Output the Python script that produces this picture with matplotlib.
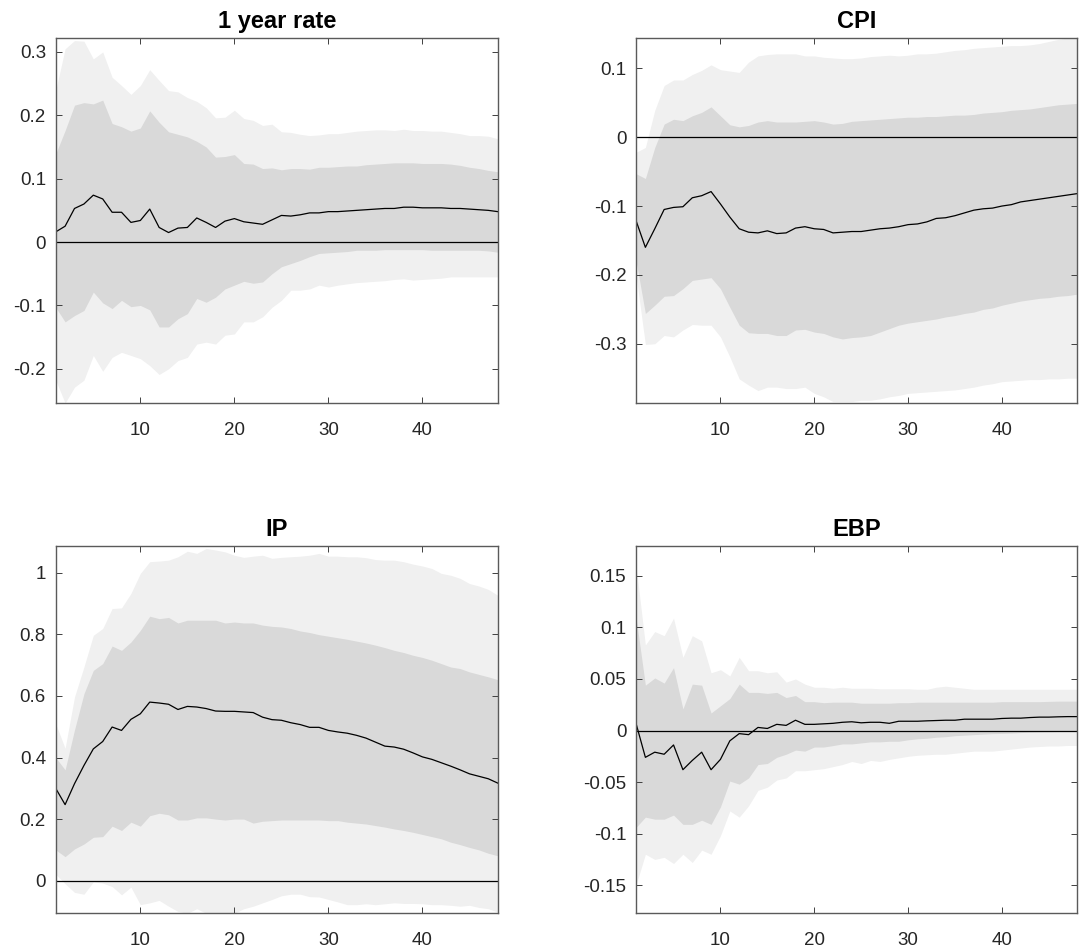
import numpy as np
import matplotlib
matplotlib.use("Agg")
import matplotlib.pyplot as plt
from matplotlib.ticker import FuncFormatter

plt.rcParams['font.family'] = ['Liberation Sans', 'DejaVu Sans']

# horizons
h = np.arange(1, 49)

# 1 year rate
rate_med = [0.016, 0.025, 0.053, 0.060, 0.074, 0.068, 0.047, 0.047, 0.031, 0.034,
            0.052, 0.023, 0.015, 0.022, 0.023, 0.038, 0.031, 0.023, 0.033, 0.037,
            0.032, 0.030, 0.028, 0.035, 0.042, 0.041, 0.043, 0.046, 0.046, 0.048,
            0.048, 0.049, 0.050, 0.051, 0.052, 0.053, 0.053, 0.055, 0.055, 0.054,
            0.054, 0.054, 0.053, 0.053, 0.052, 0.051, 0.050, 0.048]
rate_hi68 = [0.139, 0.176, 0.216, 0.220, 0.218, 0.224, 0.187, 0.182, 0.175, 0.180,
             0.207, 0.189, 0.174, 0.170, 0.166, 0.159, 0.150, 0.134, 0.135, 0.138,
             0.124, 0.123, 0.116, 0.117, 0.114, 0.116, 0.116, 0.115, 0.118, 0.118,
             0.119, 0.120, 0.120, 0.122, 0.123, 0.124, 0.125, 0.125, 0.125, 0.124,
             0.124, 0.124, 0.123, 0.121, 0.118, 0.116, 0.113, 0.111]
rate_hi90 = [0.239, 0.305, 0.318, 0.317, 0.289, 0.300, 0.260, 0.247, 0.233, 0.247,
             0.272, 0.255, 0.239, 0.237, 0.228, 0.222, 0.212, 0.196, 0.197, 0.208,
             0.195, 0.192, 0.184, 0.186, 0.174, 0.173, 0.170, 0.168, 0.169, 0.171,
             0.171, 0.173, 0.175, 0.176, 0.177, 0.177, 0.176, 0.178, 0.176, 0.176,
             0.175, 0.175, 0.173, 0.171, 0.168, 0.168, 0.167, 0.163]
rate_lo68 = [-0.103, -0.126, -0.116, -0.108, -0.079, -0.096, -0.105, -0.092, -0.102, -0.100,
             -0.107, -0.134, -0.134, -0.121, -0.113, -0.089, -0.095, -0.087, -0.074, -0.068,
             -0.062, -0.065, -0.063, -0.050, -0.039, -0.034, -0.029, -0.023, -0.018, -0.017,
             -0.016, -0.015, -0.013, -0.013, -0.013, -0.012, -0.012, -0.012, -0.012, -0.012,
             -0.013, -0.013, -0.013, -0.013, -0.013, -0.013, -0.014, -0.016]
rate_lo90 = [-0.218, -0.254, -0.229, -0.218, -0.179, -0.204, -0.182, -0.174, -0.179, -0.184,
             -0.195, -0.209, -0.200, -0.187, -0.182, -0.161, -0.158, -0.161, -0.147, -0.145,
             -0.126, -0.126, -0.118, -0.103, -0.092, -0.076, -0.076, -0.074, -0.068, -0.071,
             -0.068, -0.066, -0.064, -0.063, -0.062, -0.061, -0.059, -0.058, -0.060, -0.059,
             -0.058, -0.057, -0.055, -0.055, -0.055, -0.055, -0.055, -0.055]

# CPI
cpi_med = [-0.121, -0.160, -0.133, -0.105, -0.102, -0.101, -0.088, -0.085, -0.079, -0.097,
           -0.116, -0.133, -0.138, -0.139, -0.136, -0.140, -0.139, -0.132, -0.130, -0.133,
           -0.134, -0.139, -0.138, -0.137, -0.137, -0.135, -0.133, -0.132, -0.130, -0.127,
           -0.126, -0.123, -0.118, -0.117, -0.114, -0.110, -0.106, -0.104, -0.103, -0.100,
           -0.098, -0.094, -0.092, -0.090, -0.088, -0.086, -0.084, -0.082]
cpi_hi68 = [-0.053, -0.060, -0.015, 0.019, 0.026, 0.024, 0.031, 0.036, 0.044, 0.031,
            0.018, 0.015, 0.017, 0.022, 0.024, 0.022, 0.022, 0.022, 0.023, 0.024,
            0.022, 0.019, 0.020, 0.023, 0.024, 0.025, 0.026, 0.027, 0.028, 0.029,
            0.029, 0.030, 0.030, 0.031, 0.032, 0.032, 0.033, 0.035, 0.036, 0.037,
            0.039, 0.040, 0.041, 0.043, 0.045, 0.047, 0.048, 0.049]
cpi_hi90 = [-0.022, -0.015, 0.039, 0.075, 0.083, 0.083, 0.091, 0.097, 0.105, 0.098,
            0.096, 0.094, 0.109, 0.118, 0.120, 0.121, 0.121, 0.121, 0.118, 0.118,
            0.116, 0.115, 0.114, 0.114, 0.115, 0.117, 0.118, 0.119, 0.118, 0.119,
            0.121, 0.121, 0.122, 0.124, 0.126, 0.127, 0.129, 0.130, 0.131, 0.132,
            0.133, 0.133, 0.134, 0.136, 0.139, 0.142, 0.144, 0.144]
cpi_lo68 = [-0.179, -0.256, -0.244, -0.231, -0.230, -0.220, -0.208, -0.206, -0.204, -0.220,
            -0.247, -0.273, -0.284, -0.285, -0.285, -0.288, -0.288, -0.280, -0.279, -0.283,
            -0.285, -0.290, -0.293, -0.291, -0.290, -0.288, -0.283, -0.278, -0.273, -0.270,
            -0.268, -0.266, -0.264, -0.261, -0.259, -0.256, -0.254, -0.250, -0.248, -0.244,
            -0.241, -0.238, -0.236, -0.234, -0.233, -0.231, -0.230, -0.228]
cpi_lo90 = [-0.200, -0.301, -0.300, -0.288, -0.290, -0.280, -0.272, -0.273, -0.273, -0.290,
            -0.319, -0.351, -0.360, -0.368, -0.363, -0.363, -0.365, -0.365, -0.363, -0.372,
            -0.377, -0.384, -0.384, -0.384, -0.382, -0.382, -0.380, -0.377, -0.375, -0.372,
            -0.371, -0.370, -0.369, -0.368, -0.367, -0.365, -0.363, -0.360, -0.358, -0.355,
            -0.354, -0.353, -0.352, -0.352, -0.351, -0.351, -0.350, -0.350]

# IP
ip_med = [0.300, 0.247, 0.315, 0.374, 0.428, 0.452, 0.499, 0.488, 0.524, 0.542,
          0.580, 0.577, 0.573, 0.556, 0.566, 0.564, 0.559, 0.551, 0.550, 0.550,
          0.548, 0.546, 0.531, 0.523, 0.521, 0.513, 0.507, 0.498, 0.498, 0.488,
          0.483, 0.479, 0.472, 0.463, 0.450, 0.437, 0.434, 0.427, 0.415, 0.402,
          0.394, 0.383, 0.372, 0.360, 0.347, 0.339, 0.331, 0.317]
ip_hi68 = [0.400, 0.360, 0.490, 0.607, 0.683, 0.705, 0.762, 0.748, 0.775, 0.813,
           0.859, 0.851, 0.855, 0.837, 0.846, 0.846, 0.846, 0.846, 0.837, 0.840,
           0.837, 0.837, 0.830, 0.826, 0.824, 0.819, 0.811, 0.806, 0.799, 0.794,
           0.789, 0.784, 0.778, 0.772, 0.765, 0.757, 0.748, 0.741, 0.732, 0.725,
           0.716, 0.705, 0.694, 0.689, 0.678, 0.670, 0.662, 0.653]
ip_hi90 = [0.510, 0.430, 0.597, 0.694, 0.797, 0.819, 0.884, 0.886, 0.933, 0.998,
           1.036, 1.038, 1.041, 1.052, 1.070, 1.063, 1.079, 1.074, 1.068, 1.057,
           1.050, 1.054, 1.057, 1.047, 1.050, 1.052, 1.054, 1.057, 1.063, 1.054,
           1.054, 1.052, 1.052, 1.049, 1.043, 1.041, 1.041, 1.036, 1.028, 1.022,
           1.014, 0.998, 0.992, 0.982, 0.965, 0.957, 0.946, 0.927]
ip_lo68 = [0.100, 0.078, 0.103, 0.119, 0.141, 0.143, 0.177, 0.163, 0.190, 0.177,
           0.211, 0.219, 0.214, 0.197, 0.197, 0.204, 0.204, 0.200, 0.197, 0.200,
           0.200, 0.187, 0.193, 0.195, 0.197, 0.197, 0.197, 0.197, 0.197, 0.195,
           0.195, 0.190, 0.187, 0.184, 0.179, 0.174, 0.168, 0.163, 0.157, 0.150,
           0.143, 0.136, 0.125, 0.117, 0.108, 0.100, 0.089, 0.081]
ip_lo90 = [0.021, -0.010, -0.038, -0.044, -0.004, -0.008, -0.019, -0.046, -0.021, -0.078,
           -0.072, -0.064, -0.083, -0.100, -0.106, -0.091, -0.106, -0.110, -0.110, -0.106,
           -0.091, -0.083, -0.072, -0.061, -0.049, -0.044, -0.044, -0.052, -0.053, -0.061,
           -0.069, -0.078, -0.078, -0.075, -0.078, -0.075, -0.072, -0.074, -0.074, -0.075,
           -0.078, -0.078, -0.080, -0.083, -0.080, -0.087, -0.091, -0.102]

# EBP
ebp_med = [0.007, -0.026, -0.021, -0.023, -0.014, -0.038, -0.029, -0.021, -0.038, -0.028,
           -0.010, -0.003, -0.004, 0.003, 0.002, 0.006, 0.005, 0.010, 0.006, 0.006,
           0.0065, 0.007, 0.008, 0.0085, 0.0075, 0.008, 0.008, 0.007, 0.009, 0.009,
           0.009, 0.0094, 0.0097, 0.010, 0.010, 0.011, 0.011, 0.011, 0.011, 0.0117,
           0.012, 0.012, 0.0126, 0.013, 0.013, 0.0133, 0.0135, 0.0135]
ebp_hi68 = [0.110, 0.044, 0.051, 0.046, 0.061, 0.021, 0.045, 0.044, 0.017, 0.024,
            0.031, 0.045, 0.037, 0.037, 0.036, 0.037, 0.032, 0.034, 0.028, 0.028,
            0.027, 0.0275, 0.0275, 0.0275, 0.0265, 0.0265, 0.0265, 0.0265, 0.027, 0.027,
            0.0275, 0.0275, 0.0275, 0.0275, 0.0275, 0.0275, 0.0275, 0.0275, 0.0275, 0.028,
            0.028, 0.028, 0.028, 0.028, 0.0283, 0.0285, 0.0285, 0.0285]
ebp_hi90 = [0.160, 0.083, 0.096, 0.092, 0.109, 0.071, 0.092, 0.087, 0.056, 0.059,
            0.053, 0.071, 0.058, 0.058, 0.056, 0.057, 0.047, 0.050, 0.045, 0.042,
            0.042, 0.041, 0.042, 0.041, 0.041, 0.041, 0.0405, 0.0405, 0.0405, 0.0405,
            0.040, 0.040, 0.042, 0.043, 0.042, 0.041, 0.040, 0.040, 0.040, 0.040,
            0.040, 0.040, 0.040, 0.040, 0.040, 0.040, 0.040, 0.040]
ebp_lo68 = [-0.094, -0.084, -0.086, -0.086, -0.082, -0.091, -0.091, -0.087, -0.091, -0.074,
            -0.049, -0.052, -0.046, -0.033, -0.032, -0.026, -0.023, -0.019, -0.020, -0.016,
            -0.016, -0.0146, -0.013, -0.013, -0.012, -0.011, -0.011, -0.0104, -0.0104, -0.009,
            -0.008, -0.0075, -0.0065, -0.006, -0.005, -0.0045, -0.004, -0.0035, -0.003, -0.0028,
            -0.0025, -0.002, -0.0016, -0.0014, -0.0012, -0.001, -0.0008, -0.0006]
ebp_lo90 = [-0.150, -0.120, -0.125, -0.123, -0.129, -0.120, -0.128, -0.116, -0.120, -0.102,
            -0.078, -0.084, -0.073, -0.058, -0.055, -0.048, -0.046, -0.039, -0.039, -0.038,
            -0.037, -0.035, -0.033, -0.030, -0.032, -0.029, -0.030, -0.028, -0.0265, -0.025,
            -0.024, -0.0235, -0.023, -0.023, -0.022, -0.021, -0.020, -0.020, -0.020, -0.019,
            -0.018, -0.017, -0.016, -0.0155, -0.015, -0.015, -0.0145, -0.0145]

titles = ["1 year rate", "CPI", "IP", "EBP"]
medians = [rate_med, cpi_med, ip_med, ebp_med]
hi68 = [rate_hi68, cpi_hi68, ip_hi68, ebp_hi68]
lo68 = [rate_lo68, cpi_lo68, ip_lo68, ebp_lo68]
hi90 = [rate_hi90, cpi_hi90, ip_hi90, ebp_hi90]
lo90 = [rate_lo90, cpi_lo90, ip_lo90, ebp_lo90]
ylims = [(-0.254, 0.322), (-0.386, 0.144), (-0.105, 1.087), (-0.177, 0.179)]
yticks = [[-0.2, -0.1, 0, 0.1, 0.2, 0.3],
          [-0.3, -0.2, -0.1, 0, 0.1],
          [0, 0.2, 0.4, 0.6, 0.8, 1],
          [-0.15, -0.1, -0.05, 0, 0.05, 0.1, 0.15]]

W, H = 1081, 952
fig = plt.figure(figsize=(W / 100, H / 100), dpi=100)

# axes boxes in pixels: left, top, right, bottom
boxes = [(55.7, 38, 497.7, 403),
         (636, 38, 1077, 403),
         (55.7, 546, 497.7, 913),
         (636, 546, 1077, 913)]

fmt = FuncFormatter(lambda v, p: ('%g' % round(v, 4)))

for i in range(4):
    l, t, r, b = boxes[i]
    ax = fig.add_axes([l / W, (H - b) / H, (r - l) / W, (b - t) / H])
    ax.fill_between(h, lo90[i], hi90[i], color='#f0f0f0', linewidth=0)
    ax.fill_between(h, lo68[i], hi68[i], color='#d9d9d9', linewidth=0)
    ax.axhline(0, color='black', linewidth=0.9)
    ax.plot(h, medians[i], color='black', linewidth=0.9)
    ax.set_xlim(1, 48)
    ax.set_ylim(*ylims[i])
    ax.set_xticks([10, 20, 30, 40])
    ax.set_yticks(yticks[i])
    ax.yaxis.set_major_formatter(fmt)
    ax.tick_params(direction='in', length=4, width=0.7, colors='#404040',
                   labelcolor='#262626', labelsize=13.5, top=True, right=True)
    ax.tick_params(axis='x', pad=14)
    ax.tick_params(axis='y', pad=7)
    for s in ax.spines.values():
        s.set_color('#5a5a5a')
        s.set_linewidth(1.0)
    ax.set_title(titles[i], fontsize=17, fontweight='bold', pad=7)

fig.savefig("out.png", dpi=100)
